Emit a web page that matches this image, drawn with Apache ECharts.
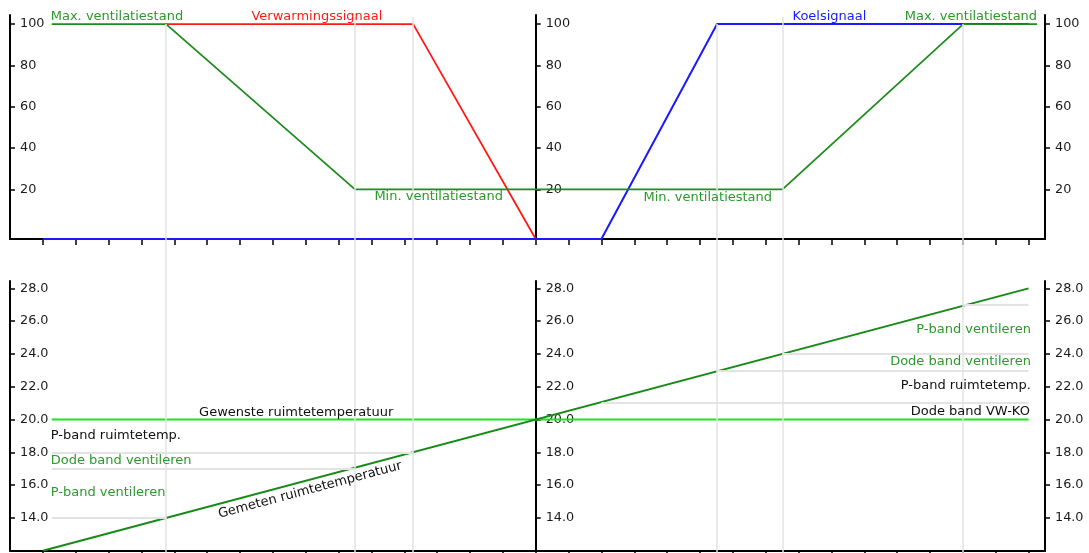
<!DOCTYPE html>
<html><head><meta charset="utf-8">
<script src="https://cdn.jsdelivr.net/npm/echarts@6/dist/echarts.min.js"></script>
<style>html,body{margin:0;padding:0;background:#fff}#c{width:1089px;height:553px}</style>
</head><body><div id="c"></div>
<script>
// x values are in tick steps (0 = centre axis, one axis tick per step)
const xTicks = [-15,-14,-13,-12,-11,-10,-9,-8,-7,-6,-5,-4,-3,-2,-1,0,1,2,3,4,5,6,7,8,9,10,11,12,13,14,15];
const topYTicks = [20,40,60,80,100];
const bottomYTicks = [14,16,18,20,22,24,26,28];

// top panel signals (%)
const ventilation = [[-14.73,100],[-11.25,100],[-5.5,20],[7.51,20],[13.01,100],[15.26,100]];
const heating = [[-11.25,100],[-3.73,100],[0,-4]];
const cooling = [[-15,-4],[2.0,-4],[5.52,100],[15,100]];

// bottom panel temperatures (°C)
const setpoint = [[-14.73,20],[15,20]];
const measured = [[-15,12],[15,28]];
// band boundary lines: [temperature, x where the measured line reaches it]
const bandLinesLeft = [[14,-11.25],[17,-5.5],[18,-3.73]];
const bandLinesRight = [[21,2.0],[23,5.52],[24,7.51],[27,13.01]];

// vertical reference lines
const verticalX = [-11.25,-5.5,-3.73,2.0,5.52,7.51,13.01];
const verticalTop = [100,103.5,103.5,107.8,100,103.5,100];

const GREEN = '#1f8c1f', GREEN_TXT = '#2a9a2a', RED = '#ff1a1a', BLUE = '#1a1aff', LIME = '#1ee21e', BLACK = '#111';

const topNotes = [
  {text:'Max. ventilatiestand', x:-14.76, y:103.6, align:'left', color:GREEN_TXT},
  {text:'Verwarmingssignaal', x:-6.66, y:103.6, align:'center', color:RED},
  {text:'Min. ventilatiestand', x:-4.91, y:16.5, align:'left', color:GREEN_TXT},
  {text:'Koelsignaal', x:8.94, y:103.6, align:'center', color:BLUE},
  {text:'Max. ventilatiestand', x:15.26, y:103.6, align:'right', color:GREEN_TXT},
  {text:'Min. ventilatiestand', x:3.28, y:16.2, align:'left', color:GREEN_TXT}
];
const bottomNotes = [
  {text:'Gewenste ruimtetemperatuur', x:-7.29, y:20.41, align:'center', color:BLACK},
  {text:'P-band ruimtetemp.', x:-14.76, y:19.01, align:'left', color:BLACK},
  {text:'Dode band ventileren', x:-14.76, y:17.49, align:'left', color:GREEN_TXT},
  {text:'P-band ventileren', x:-14.76, y:15.54, align:'left', color:GREEN_TXT},
  {text:'Gemeten ruimtetemperatuur', x:-6.87, y:15.70, align:'center', color:BLACK, rotate:15},
  {text:'P-band ventileren', x:15.07, y:25.5, align:'right', color:GREEN_TXT},
  {text:'Dode band ventileren', x:15.07, y:23.52, align:'right', color:GREEN_TXT},
  {text:'P-band ruimtetemp.', x:15.07, y:22.04, align:'right', color:BLACK},
  {text:'Dode band VW-KO', x:15.04, y:20.48, align:'right', color:BLACK}
];

const FONT = 'DejaVu Sans';
const X_MIN = -16, X_MAX = 15.5;
const OV_MIN = -155.96, OV_MAX = 107.79;

function xAx(gi, show) {
  return {
    type:'value', gridIndex:gi, min:X_MIN, max:X_MAX, show:show,
    axisLine:{show:true, onZero:false, lineStyle:{color:'#000', width:2}},
    axisTick:{show:true, length:6, lineStyle:{color:'#000', width:1.5}, customValues:xTicks},
    axisLabel:{show:false}, splitLine:{show:false}
  };
}
function yAx(gi, pos, offset, min, max, ticks, fmt, inside) {
  return {
    type:'value', gridIndex:gi, position:pos, offset:offset, min:min, max:max,
    axisLine:{show:true, onZero:false, lineStyle:{color:'#000', width:2}},
    axisTick:{show:true, inside:inside, length:5, lineStyle:{color:'#000', width:1.5}, customValues:ticks},
    axisLabel:{show:true, inside:inside, margin:10, color:'#1a1a1a', fontSize:12.8, fontFamily:FONT,
      formatter:fmt, customValues:ticks},
    splitLine:{show:false}
  };
}
function notesMP(notes) {
  return {
    symbol:'circle', symbolSize:0, silent:true, animation:false,
    label:{show:true, position:'inside', fontSize:13, fontFamily:FONT},
    data: notes.map(n => ({
      coord:[n.x, n.y], value:0,
      label:{formatter:n.text, color:n.color, align:n.align, verticalAlign:'middle', rotate:n.rotate||0}
    }))
  };
}
function lineS(name, xi, yi, data, color, width, extra) {
  return Object.assign({
    name:name, type:'line', xAxisIndex:xi, yAxisIndex:yi, data:data, showSymbol:false, symbol:'none',
    lineStyle:{color:color, width:width}, itemStyle:{color:color}, silent:true, animation:false, z:2
  }, extra||{});
}
const fmtInt = v => String(v);
const fmt1 = v => Number(v).toFixed(1);

const option = {
  animation:false,
  backgroundColor:'#fff',
  grid:[
    {left:10, right:44, top:15, height:224},
    {left:10, right:44, top:281, bottom:2.3},
    {left:10, right:44, top:8, bottom:0}
  ],
  xAxis:[xAx(0,true), xAx(1,true), Object.assign(xAx(2,false),{show:false})],
  yAxis:[
    yAx(0,'left',0,-4,104.4,topYTicks,fmtInt,true),
    yAx(0,'left',-525.7,-4,104.4,topYTicks,fmtInt,true),
    yAx(0,'right',0,-4,104.4,topYTicks,fmtInt,false),
    yAx(1,'left',0,12,28.45,bottomYTicks,fmt1,true),
    yAx(1,'left',-525.7,12,28.45,bottomYTicks,fmt1,true),
    yAx(1,'right',0,12,28.45,bottomYTicks,fmt1,false),
    {type:'value', gridIndex:2, min:OV_MIN, max:OV_MAX, show:false}
  ],
  series:[
    {
      type:'line', xAxisIndex:2, yAxisIndex:6, data:[], silent:true, z:-1,
      markLine:{
        silent:true, symbol:['none','none'], animation:false, label:{show:false},
        lineStyle:{color:'#e3e3e3', width:1.5, type:'solid'},
        data: verticalX.map((x,i) => [{coord:[x, verticalTop[i]]},{coord:[x, OV_MIN]}])
      }
    },
    {
      type:'line', xAxisIndex:1, yAxisIndex:3, data:[], silent:true, z:-1,
      markLine:{
        silent:true, symbol:['none','none'], animation:false, label:{show:false},
        lineStyle:{color:'#e3e3e3', width:1.8, type:'solid'},
        data: bandLinesLeft.map(b => [{coord:[-14.73, b[0]]},{coord:[b[1], b[0]]}])
          .concat(bandLinesRight.map(b => [{coord:[b[1], b[0]]},{coord:[15, b[0]]}]))
      }
    },
    lineS('Verwarmingssignaal',0,0,heating,RED,1.8),
    lineS('Koelsignaal',0,0,cooling,BLUE,2),
    lineS('Ventilatiestand',0,0,ventilation,GREEN,1.8,{markPoint:notesMP(topNotes)}),
    lineS('Gewenste ruimtetemperatuur',1,3,setpoint,LIME,2),
    lineS('Gemeten ruimtetemperatuur',1,3,measured,'#178a17',2,{markPoint:notesMP(bottomNotes)})
  ]
};
const chart = echarts.init(document.getElementById('c'), null, {renderer:'canvas'});
chart.setOption(option);
</script>
</body></html>
